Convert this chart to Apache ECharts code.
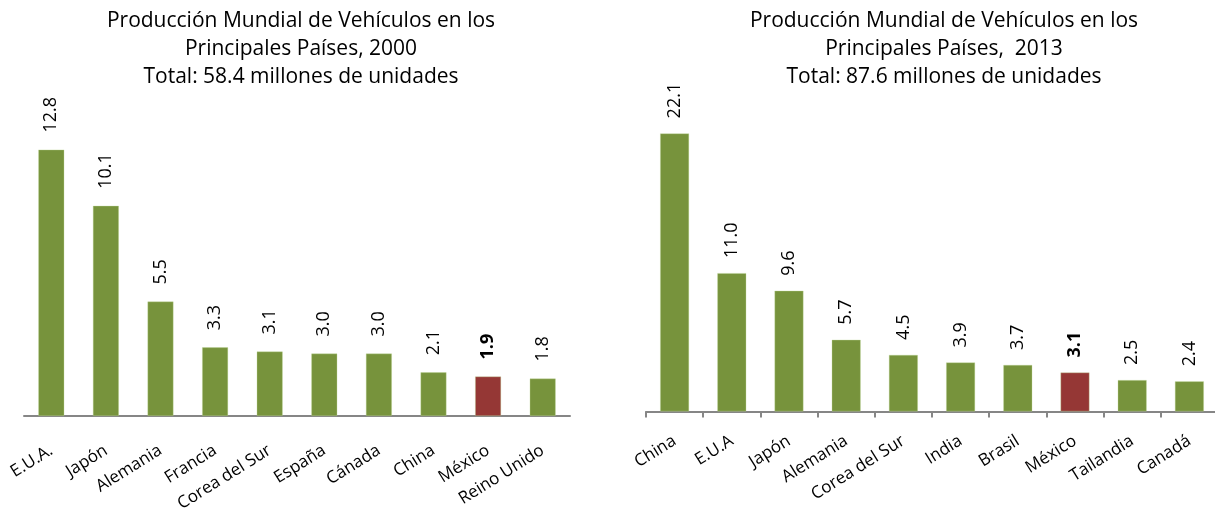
<!DOCTYPE html>
<html>
<head>
<meta charset="utf-8">
<title>Producción Mundial de Vehículos</title>
<script src="https://cdn.jsdelivr.net/npm/echarts@6/dist/echarts.min.js"></script>
<style>
  html, body { margin: 0; padding: 0; background: #fff; }
  #chart { width: 1215px; height: 512px; }
</style>
</head>
<body>
<div id="chart"></div>
<script>
// Production by country, millions of units
const countries2000 = ['E.U.A.', 'Japón', 'Alemania', 'Francia', 'Corea del Sur', 'España', 'Cánada', 'China', 'México', 'Reino Unido'];
const values2000 = [12.8, 10.1, 5.5, 3.3, 3.1, 3.0, 3.0, 2.1, 1.9, 1.8];

const countries2013 = ['China', 'E.U.A', 'Japón', 'Alemania', 'Corea del Sur', 'India', 'Brasil', 'México', 'Tailandia', 'Canadá'];
const values2013 = [22.1, 11.0, 9.6, 5.7, 4.5, 3.9, 3.7, 3.1, 2.5, 2.4];

const title2000 = 'Producción Mundial de Vehículos en los\nPrincipales Países, 2000\nTotal: 58.4 millones de unidades';
const title2013 = 'Producción Mundial de Vehículos en los\nPrincipales Países,  2013\nTotal: 87.6 millones de unidades';

const highlight = 'México';
const FONT = '"Open Sans", sans-serif';
const GREEN = '#77933C';
const RED = '#953735';

function barData(cats, vals) {
  return vals.map((v, i) => {
    const hi = cats[i] === highlight;
    return {
      value: v,
      itemStyle: { color: hi ? RED : GREEN },
      label: hi ? { fontWeight: 'bold' } : undefined
    };
  });
}

function xAxis(gridIndex, cats, showTicks, margin) {
  return {
    type: 'category',
    gridIndex: gridIndex,
    data: cats,
    axisLine: { lineStyle: { color: '#868686', width: 2 } },
    axisTick: { show: showTicks, length: 6, lineStyle: { color: '#868686', width: 2 } },
    axisLabel: {
      interval: 0, rotate: 32, margin: margin,
      fontFamily: FONT, fontSize: 17, color: '#000'
    }
  };
}

function yAxis(gridIndex, max) {
  return {
    type: 'value', gridIndex: gridIndex, min: 0, max: max,
    show: false, splitLine: { show: false }
  };
}

function barSeries(idx, cats, vals, width, dist) {
  return {
    type: 'bar',
    xAxisIndex: idx, yAxisIndex: idx,
    data: barData(cats, vals),
    barWidth: width,
    itemStyle: { borderColor: 'rgba(190,215,150,0.6)', borderWidth: 0.6 },
    label: {
      show: true, position: 'top', distance: dist, rotate: 90,
      align: 'left', verticalAlign: 'middle',
      fontFamily: FONT, fontSize: 18, color: '#000',
      formatter: p => p.value.toFixed(1)
    },
    animation: false
  };
}

const chart = echarts.init(document.getElementById('chart'), null, { renderer: 'canvas' });
chart.setOption({
  backgroundColor: '#fff',
  animation: false,
  title: [
    {
      text: title2000, left: 296, top: 2, textAlign: 'center',
      textStyle: { fontFamily: FONT, fontSize: 21, fontWeight: 'normal', color: '#000', lineHeight: 28 }
    },
    {
      text: title2013, left: 939, top: 2, textAlign: 'center',
      textStyle: { fontFamily: FONT, fontSize: 21, fontWeight: 'normal', color: '#000', lineHeight: 28 }
    }
  ],
  grid: [
    { left: 24, width: 546, top: 83, height: 333, outerBoundsMode: 'none', containLabel: false },
    { left: 646, width: 572, top: 109.5, height: 302, outerBoundsMode: 'none', containLabel: false }
  ],
  xAxis: [xAxis(0, countries2000, false, 33), xAxis(1, countries2013, true, 28)],
  yAxis: [yAxis(0, 16), yAxis(1, 24)],
  series: [
    barSeries(0, countries2000, values2000, 26, 17),
    barSeries(1, countries2013, values2013, 29, 15)
  ]
});
</script>
</body>
</html>
